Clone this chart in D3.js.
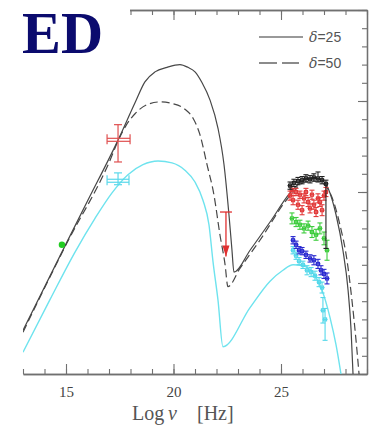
<!DOCTYPE html>
<html><head><meta charset="utf-8">
<script src="https://cdn.jsdelivr.net/npm/d3@7"></script>
<style>html,body{margin:0;padding:0;background:#fff;} svg{display:block}</style>
</head><body>
<svg id="chart" width="380" height="426"></svg>
<script>
// ---------- data (log nu [Hz], log nuFnu) ----------
const xDomain = [13, 29];
const yDomain = [-14, -10];
const xMajorTicks = [15, 20, 25];
const xMinorTicks = d3.range(13, 30, 1);
const yMajorTicks = [-14, -13, -12, -11, -10];
const yMinorTicks = d3.range(-14, -9.99, 0.2);
const legendLabels = ["δ=25", "δ=50"];
const titleText = "ED";
const xAxisTitle = ["Log", "ν", "[Hz]"];

const modelDelta25 = [[13.00,-13.52],[15.00,-12.57],[16.00,-12.10],[17.42,-11.43],[18.21,-11.02],[18.67,-10.79],[19.14,-10.68],[19.70,-10.63],[20.30,-10.60],[20.67,-10.63],[21.00,-10.68],[21.33,-10.80],[21.70,-10.99],[22.07,-11.30],[22.35,-11.70],[22.58,-12.25],[22.72,-12.64],[22.81,-12.88],[23.56,-12.64],[24.49,-12.33],[25.42,-12.01],[25.88,-11.90],[26.35,-11.85],[26.81,-11.86],[27.19,-11.96],[27.56,-12.25],[27.88,-12.64],[28.12,-13.08],[28.26,-13.52],[28.35,-14.0]];
const modelDelta50 = [[13.00,-13.54],[15.00,-12.58],[17.05,-11.65],[17.42,-11.44],[17.79,-11.27],[18.21,-11.14],[18.77,-11.04],[19.37,-11.01],[19.98,-11.03],[20.53,-11.09],[20.91,-11.19],[21.23,-11.37],[21.56,-11.70],[21.88,-12.03],[22.16,-12.47],[22.40,-12.80],[22.53,-13.04],[23.09,-12.84],[24.02,-12.53],[25.42,-12.04],[26.12,-11.89],[26.72,-11.88],[27.28,-12.01],[27.74,-12.36],[28.07,-12.75],[28.30,-13.19],[28.49,-13.63],[28.63,-14.0]];
const modelLowState = [[13.00,-13.76],[14.26,-13.18],[15.42,-12.66],[16.35,-12.29],[17.14,-12.01],[17.88,-11.81],[18.58,-11.70],[19.28,-11.66],[19.93,-11.68],[20.53,-11.76],[21.00,-11.89],[21.37,-12.09],[21.65,-12.36],[21.84,-12.77],[22.07,-13.19],[22.30,-13.70],[23.56,-13.27],[24.49,-12.98],[25.09,-12.86],[25.56,-12.80],[26.02,-12.81],[26.49,-12.89],[26.91,-13.08],[27.28,-13.38],[27.56,-13.68],[27.79,-14.0]];

// gamma-ray spectra: [logNu, logNuFnu, errDown, errUp]
const gammaBlack = [[25.42,-11.93,0.04,0.04],[25.60,-11.90,0.04,0.04],[25.79,-11.88,0.04,0.04],[25.98,-11.87,0.04,0.04],[26.16,-11.85,0.04,0.04],[26.35,-11.86,0.04,0.04],[26.53,-11.84,0.04,0.04],[26.72,-11.85,0.04,0.07],[26.91,-11.87,0.04,0.04],[27.09,-11.91,0.71,0.04]];
const gammaRed = [[25.42,-12.04,0.05,0.05],[25.51,-11.98,0.04,0.04],[25.56,-12.09,0.05,0.05],[25.70,-12.00,0.04,0.04],[25.79,-12.14,0.05,0.05],[25.88,-12.03,0.04,0.04],[25.98,-12.20,0.05,0.05],[26.07,-12.07,0.05,0.05],[26.16,-12.00,0.04,0.04],[26.26,-12.11,0.05,0.05],[26.35,-12.18,0.05,0.05],[26.44,-12.03,0.05,0.05],[26.53,-12.14,0.05,0.05],[26.63,-12.22,0.05,0.05],[26.72,-12.07,0.05,0.05],[26.81,-12.11,0.05,0.05],[26.91,-12.20,0.06,0.06],[27.00,-12.04,0.05,0.05],[27.09,-12.00,0.05,0.05]];
const gammaGreen = [[25.51,-12.29,0.06,0.06],[25.70,-12.33,0.05,0.05],[25.88,-12.36,0.05,0.05],[26.07,-12.40,0.05,0.05],[26.26,-12.37,0.05,0.05],[26.44,-12.44,0.06,0.06],[26.63,-12.47,0.06,0.06],[26.81,-12.40,0.06,0.06],[27.00,-12.51,0.07,0.07],[27.14,-12.64,0.11,0.11]];
const gammaBlue = [[25.56,-12.53,0.04,0.04],[25.70,-12.58,0.04,0.04],[25.84,-12.64,0.04,0.04],[25.98,-12.65,0.04,0.04],[26.16,-12.69,0.04,0.04],[26.35,-12.73,0.04,0.04],[26.53,-12.75,0.05,0.05],[26.72,-12.79,0.05,0.05],[26.86,-12.86,0.05,0.05],[27.00,-12.90,0.05,0.05],[27.14,-12.95,0.06,0.06]];
const gammaCyan = [[25.56,-12.64,0.04,0.04],[25.70,-12.70,0.04,0.04],[25.84,-12.76,0.04,0.04],[26.02,-12.80,0.04,0.04],[26.21,-12.86,0.05,0.05],[26.40,-12.88,0.05,0.05],[26.58,-12.92,0.05,0.05],[26.77,-12.99,0.05,0.05],[26.91,-13.05,0.06,0.06],[26.95,-13.30,0.14,0.14],[27.05,-13.40,0.23,0.12]];

// X-ray points: [logNu, logNuFnu, xLo, xHi, yLo, yHi]
const xrayRed = [[17.42,-11.41,16.91,17.98,-11.67,-11.26]];
const xrayCyan = [[17.42,-11.86,16.91,17.93,-11.92,-11.79]];
// optical point
const opticalGreen = [[14.81,-12.58]];
// upper limit: [logNu, top, arrow tip]
const upperLimitRed = [[22.44,-12.22,-12.71]];

// ---------- drawing ----------
const svg = d3.select("#chart");
svg.append("rect").attr("width",380).attr("height",426).attr("fill","#fff");

const x = d3.scaleLinear().domain(xDomain).range([23, 367]);
const y = d3.scaleLinear().domain(yDomain).range([374, 10]);

const axisColor = "#707070";
function styleAxis(g){
  g.selectAll("path.domain").attr("stroke",axisColor).attr("stroke-width",1.3);
  g.selectAll(".tick line").attr("stroke",axisColor).attr("stroke-width",1.1);
}

// bottom axis
const gb1 = svg.append("g").attr("transform",`translate(0,${y(yDomain[0])})`)
  .call(d3.axisBottom(x).tickValues(xMinorTicks).tickSize(-5).tickSizeOuter(0).tickFormat(""));
styleAxis(gb1);
const gb2 = svg.append("g").attr("transform",`translate(0,${y(yDomain[0])})`)
  .call(d3.axisBottom(x).tickValues(xMajorTicks).tickSize(-10).tickSizeOuter(0).tickPadding(12).tickFormat(d3.format("d")));
styleAxis(gb2);
gb2.selectAll("text").attr("font-family","'Liberation Serif', serif").attr("font-size",15).attr("fill","#444");

// top axis
const gt1 = svg.append("g").attr("transform",`translate(0,${y(yDomain[1])})`)
  .call(d3.axisTop(x).tickValues(xMinorTicks).tickSize(-5).tickSizeOuter(0).tickFormat(""));
styleAxis(gt1);
const gt2 = svg.append("g").attr("transform",`translate(0,${y(yDomain[1])})`)
  .call(d3.axisTop(x).tickValues(xMajorTicks).tickSize(-10).tickSizeOuter(0).tickFormat(""));
styleAxis(gt2);

// right axis
const gr1 = svg.append("g").attr("transform",`translate(${x(xDomain[1])},0)`)
  .call(d3.axisRight(y).tickValues(yMinorTicks).tickSize(-5).tickSizeOuter(0).tickFormat(""));
styleAxis(gr1);
const gr2 = svg.append("g").attr("transform",`translate(${x(xDomain[1])},0)`)
  .call(d3.axisRight(y).tickValues(yMajorTicks).tickSize(-9).tickSizeOuter(0).tickFormat(""));
styleAxis(gr2);

// clip
svg.append("clipPath").attr("id","plotclip").append("rect")
  .attr("x",x(xDomain[0])).attr("y",y(yDomain[1])).attr("width",x(xDomain[1])-x(xDomain[0])).attr("height",y(yDomain[0])-y(yDomain[1]));
const plot = svg.append("g").attr("clip-path","url(#plotclip)");

const line = d3.line().x(d=>x(d[0])).y(d=>y(d[1])).curve(d3.curveMonotoneX);

plot.append("path").datum(modelLowState).attr("d",line).attr("fill","none")
  .attr("stroke","#6ee3ee").attr("stroke-width",1.4);
plot.append("path").datum(modelDelta50).attr("d",line).attr("fill","none")
  .attr("stroke","#474747").attr("stroke-width",1.2).attr("stroke-dasharray","8,4");
plot.append("path").datum(modelDelta25).attr("d",line).attr("fill","none")
  .attr("stroke","#474747").attr("stroke-width",1.2);

// gamma-ray spectra
function drawSpectrum(data,color){
  const g = plot.append("g").attr("stroke",color).attr("stroke-width",1.1).attr("fill","none");
  data.forEach(d=>{
    const cx = x(d[0]), cy = y(d[1]), y0 = y(d[1]-d[2]), y1 = y(d[1]+d[3]);
    g.append("line").attr("x1",cx).attr("x2",cx).attr("y1",y0).attr("y2",y1);
    g.append("line").attr("x1",cx-2.5).attr("x2",cx+2.5).attr("y1",y0).attr("y2",y0);
    g.append("line").attr("x1",cx-2.5).attr("x2",cx+2.5).attr("y1",y1).attr("y2",y1);
    g.append("line").attr("x1",cx-2.5).attr("x2",cx+2.5).attr("y1",cy).attr("y2",cy);
    g.append("rect").attr("x",cx-1.5).attr("y",cy-1.5).attr("width",3).attr("height",3);
  });
}
drawSpectrum(gammaCyan,"#55d8ea");
drawSpectrum(gammaBlue,"#2a2ad0");
drawSpectrum(gammaGreen,"#3ccc3c");
drawSpectrum(gammaRed,"#e23a3a");
drawSpectrum(gammaBlack,"#222");

// X-ray crosses
function drawCross(data,color){
  const g = plot.append("g").attr("stroke",color).attr("stroke-width",1.2);
  data.forEach(d=>{
    const cx=x(d[0]), cy=y(d[1]), xl=x(d[2]), xh=x(d[3]), yl=y(d[4]), yh=y(d[5]);
    g.append("line").attr("x1",xl).attr("x2",xh).attr("y1",cy).attr("y2",cy);
    g.append("line").attr("x1",xl).attr("x2",xh).attr("y1",cy+3).attr("y2",cy+3);
    g.append("line").attr("x1",xl).attr("x2",xl).attr("y1",cy-4).attr("y2",cy+6);
    g.append("line").attr("x1",xh).attr("x2",xh).attr("y1",cy-4).attr("y2",cy+6);
    g.append("line").attr("x1",cx).attr("x2",cx).attr("y1",yl).attr("y2",yh);
    g.append("line").attr("x1",cx-4).attr("x2",cx+4).attr("y1",yl).attr("y2",yl);
    g.append("line").attr("x1",cx-4).attr("x2",cx+4).attr("y1",yh).attr("y2",yh);
  });
}
drawCross(xrayRed,"#e05050");
drawCross(xrayCyan,"#5ad8ea");

// optical point
plot.selectAll("circle.opt").data(opticalGreen).join("circle")
  .attr("cx",d=>x(d[0])).attr("cy",d=>y(d[1])).attr("r",3.2).attr("fill","#22cc22");

// upper limit
upperLimitRed.forEach(d=>{
  const cx=x(d[0]), yt=y(d[1]), ya=y(d[2]);
  plot.append("line").attr("x1",cx).attr("x2",cx).attr("y1",yt).attr("y2",ya).attr("stroke","#e03030").attr("stroke-width",1.3);
  plot.append("line").attr("x1",cx-6).attr("x2",cx+6).attr("y1",yt).attr("y2",yt).attr("stroke","#e03030").attr("stroke-width",1.3);
  plot.append("path").attr("d",`M${cx-3.5},${ya-11}L${cx+3.5},${ya-11}L${cx},${ya}Z`).attr("fill","#e03030");
});

// legend
const legendX0 = 259, legendY = [37, 63];
svg.append("line").attr("x1",legendX0).attr("x2",legendX0+44).attr("y1",legendY[0]).attr("y2",legendY[0])
  .attr("stroke","#777").attr("stroke-width",1.3);
svg.append("line").attr("x1",legendX0).attr("x2",legendX0+40).attr("y1",legendY[1]).attr("y2",legendY[1])
  .attr("stroke","#666").attr("stroke-width",1.5).attr("stroke-dasharray","18,5");
legendLabels.forEach((t,i)=>{
  const tx = svg.append("text").attr("x",309).attr("y",legendY[i]+5)
    .attr("font-family","'Liberation Sans', Arial, sans-serif").attr("font-size",14).attr("fill","#555");
  tx.append("tspan").attr("font-style","italic").attr("font-family","'DejaVu Serif', serif").text(t[0]);
  tx.append("tspan").text(t.slice(1));
});

// axis title
const at = svg.append("text").attr("y",420).attr("font-family","'Liberation Serif', serif").attr("font-size",20).attr("fill","#555");
at.append("tspan").attr("x",132).text(xAxisTitle[0]);
at.append("tspan").attr("x",168).attr("font-style","italic").text(xAxisTitle[1]);
at.append("tspan").attr("x",197).text(xAxisTitle[2]);

// title (covers top axis)
svg.append("rect").attr("x",0).attr("y",0).attr("width",130).attr("height",57).attr("fill","#fff");
svg.append("text").attr("x",22).attr("y",53).attr("font-family","'Liberation Serif', serif")
  .attr("font-weight","bold").attr("font-size",59).attr("fill","#0b0b6e")
  .attr("textLength",81).attr("lengthAdjust","spacingAndGlyphs").text(titleText);
</script>
</body></html>
